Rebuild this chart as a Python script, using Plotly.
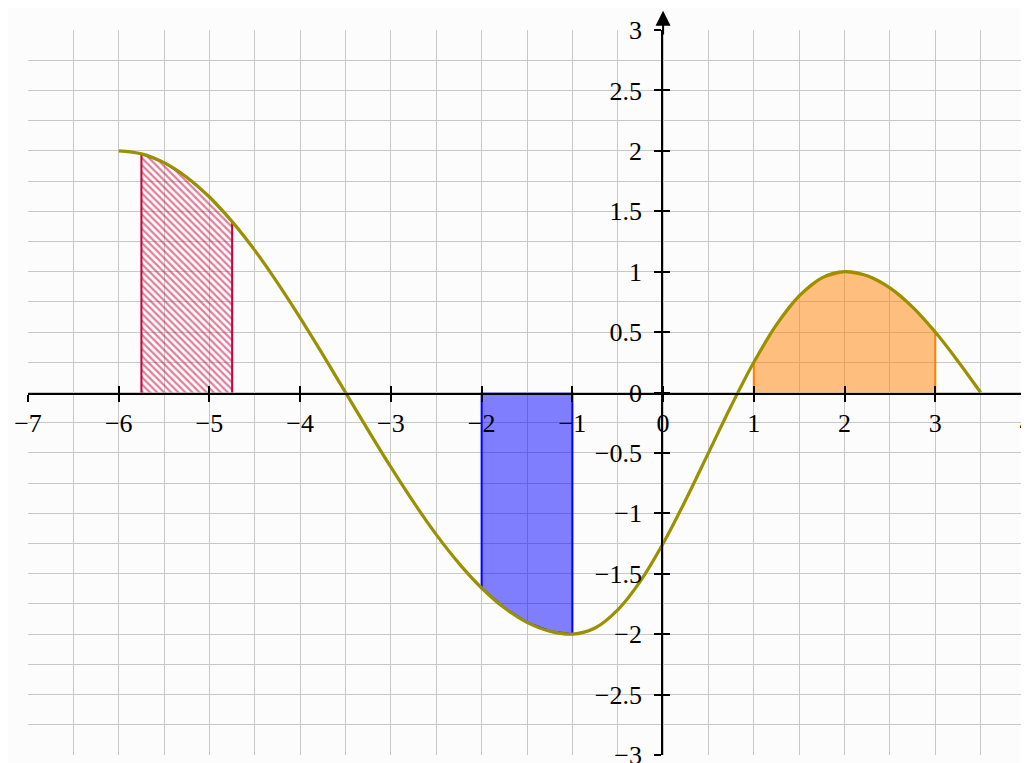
import plotly.graph_objects as go

# Curve samples (step 0.25)
curve_x = [-6, -5.75, -5.5, -5.25, -5, -4.75, -4.5, -4.25, -4, -3.75, -3.5,
           -3.25, -3, -2.75, -2.5, -2.25, -2, -1.75, -1.5, -1.25, -1,
           -0.75, -0.5, -0.25, 0, 0.25, 0.5, 0.75, 1, 1.25, 1.5, 1.75, 2,
           2.25, 2.5, 2.75, 3, 3.25, 3.5]
curve_y = [2.0, 1.975, 1.902, 1.782, 1.618, 1.414, 1.176, 0.908, 0.618, 0.313, 0.0,
           -0.313, -0.618, -0.908, -1.176, -1.414, -1.618, -1.782, -1.902, -1.975, -2.0,
           -1.949, -1.799, -1.561, -1.25, -0.888, -0.5, -0.112, 0.25, 0.561, 0.799, 0.949, 1.0,
           0.966, 0.866, 0.707, 0.5, 0.259, 0.0]

# Shaded intervals
hatch_interval = (-5.75, -4.75)
blue_interval = (-2, -1)
orange_interval = (1, 3)

x_ticks = [-7, -6, -5, -4, -3, -2, -1, 0, 1, 2, 3, 4]
y_ticks = [-3, -2.5, -2, -1.5, -1, -0.5, 0, 0.5, 1, 1.5, 2, 2.5, 3]
x_range = [-7, 4]
y_range = [-3, 3]

FONT = "Liberation Serif"


def region(a, b):
    xs = [x for x in curve_x if a <= x <= b]
    ys = [y for x, y in zip(curve_x, curve_y) if a <= x <= b]
    return [a] + xs + [b], [0] + ys + [0]


fig = go.Figure()

hx, hy = region(*hatch_interval)
fig.add_trace(go.Scatter(
    x=hx, y=hy, mode="lines", fill="tozeroy",
    fillcolor="rgba(0,0,0,0)",
    fillpattern=dict(shape="\\", fgcolor="#c4003c", bgcolor="rgba(0,0,0,0)",
                     size=5, solidity=0.45),
    line=dict(color="#c8003c", width=2), hoverinfo="skip", showlegend=False))

bx, by = region(*blue_interval)
fig.add_trace(go.Scatter(
    x=bx, y=by, mode="lines", fill="tozeroy",
    fillcolor="rgba(0,0,255,0.5)",
    line=dict(color="#0000ff", width=2), hoverinfo="skip", showlegend=False))

ox, oy = region(*orange_interval)
fig.add_trace(go.Scatter(
    x=ox, y=oy, mode="lines", fill="tozeroy",
    fillcolor="rgba(255,128,0,0.5)",
    line=dict(color="#ff8000", width=2), hoverinfo="skip", showlegend=False))

fig.add_trace(go.Scatter(
    x=curve_x, y=curve_y, mode="lines",
    line=dict(color="#999100", width=3.2, shape="spline"),
    hoverinfo="skip", showlegend=False))

# invisible traces so the tick-only axes (crossing at the origin) render
for xa, ya in [("x2", "y2"), ("x3", "y2"), ("x4", "y3"), ("x4", "y4")]:
    fig.add_trace(go.Scatter(x=[None], y=[None], xaxis=xa, yaxis=ya,
                             mode="lines", hoverinfo="skip", showlegend=False))

grid_col = "#c8c8c8"
tickfont = dict(family=FONT, size=26, color="black")
y0_frac = (0 - y_range[0]) / (y_range[1] - y_range[0])
x0_frac = (0 - x_range[0]) / (x_range[1] - x_range[0])

fig.update_layout(
    width=1029, height=763,
    margin=dict(l=20, r=11, t=22, b=16, autoexpand=False),
    paper_bgcolor="#fcfcfc", plot_bgcolor="rgba(0,0,0,0)",
    # grid axes
    xaxis=dict(range=x_range, domain=[0, 1], anchor="y", automargin=False,
               tickvals=x_ticks, ticks="", showticklabels=False,
               showgrid=True, gridcolor=grid_col, gridwidth=1.2,
               minor=dict(dtick=0.5, showgrid=True, gridcolor=grid_col, gridwidth=1.2),
               zeroline=False, showline=False),
    yaxis=dict(range=y_range, domain=[0, 1], anchor="x", automargin=False,
               tickvals=y_ticks, ticks="", showticklabels=False,
               showgrid=True, gridcolor=grid_col, gridwidth=1.2,
               minor=dict(dtick=0.25, showgrid=True, gridcolor=grid_col, gridwidth=1.2),
               zeroline=False, showline=False),
    # horizontal axis through y = 0 (labels + downward ticks)
    xaxis2=dict(range=x_range, domain=[0, 1], anchor="y2", side="bottom", automargin=False,
                tickvals=x_ticks, ticks="outside", ticklen=7, tickwidth=2, tickcolor="black",
                showline=True, linecolor="black", linewidth=2,
                showgrid=False, zeroline=False, tickfont=tickfont,
                ticklabelstandoff=-1),
    yaxis2=dict(range=[0, 1], domain=[y0_frac, 1], anchor="x2", visible=False,
                showgrid=False, zeroline=False),
    # upward tick halves
    xaxis3=dict(range=x_range, domain=[0, 1], anchor="y2", side="bottom", automargin=False,
                tickvals=x_ticks, ticks="inside", ticklen=7, tickwidth=2, tickcolor="black",
                showticklabels=False, showline=False, showgrid=False, zeroline=False),
    # vertical axis through x = 0 (labels + leftward ticks)
    xaxis4=dict(range=[0, 1], domain=[x0_frac, 1], anchor="y3", visible=False,
                showgrid=False, zeroline=False),
    yaxis3=dict(range=y_range, domain=[0, 1], anchor="x4", side="left", automargin=False,
                tickvals=y_ticks, ticks="outside", ticklen=7, tickwidth=2, tickcolor="black",
                showline=True, linecolor="black", linewidth=2,
                showgrid=False, zeroline=False, tickfont=tickfont,
                ticklabelstandoff=7),
    # rightward tick halves
    yaxis4=dict(range=y_range, domain=[0, 1], anchor="x4", side="left", automargin=False,
                tickvals=y_ticks, ticks="inside", ticklen=7, tickwidth=2, tickcolor="black",
                showticklabels=False, showline=False, showgrid=False, zeroline=False),
)

# arrow at the top of the y axis
fig.add_annotation(x=0, y=3.16, ax=0, ay=2.95, xref="x", yref="y", axref="x", ayref="y",
                   showarrow=True, arrowhead=2, arrowsize=1.5, arrowwidth=2,
                   arrowcolor="black", text="")

fig.write_html("out.html")
